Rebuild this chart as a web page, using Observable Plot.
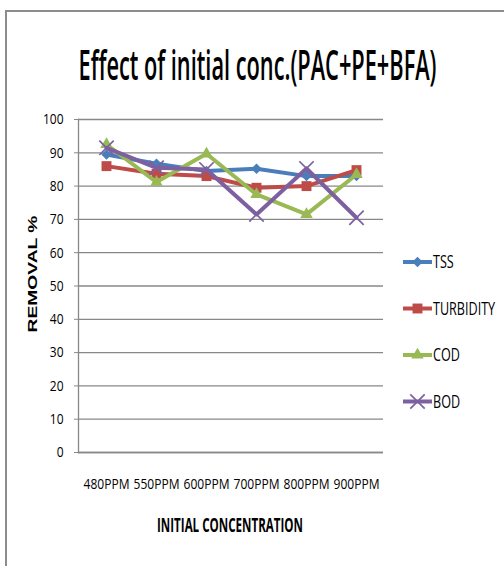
<!DOCTYPE html>
<html>
<head>
<meta charset="utf-8">
<script src="https://cdn.jsdelivr.net/npm/d3@7"></script>
<script src="https://cdn.jsdelivr.net/npm/@observablehq/plot@0.6"></script>
<style>
  body { margin: 0; background: #fff; }
  #chart { position: relative; width: 504px; height: 566px; overflow: hidden; background: #fff; font-family: "Open Sans", sans-serif; }
  #chart > svg { position: absolute; left: 0; top: 0; }
  .edge { position: absolute; background: #8c8c8c; }
</style>
</head>
<body>
<div id="chart">
  <div class="edge" style="left:5px;top:10px;width:1.5px;height:556px"></div>
  <div class="edge" style="left:5px;top:10px;width:499px;height:1.5px"></div>
</div>
<script>
// Removal efficiency (%) at each initial dose of the PAC+PE+BFA coagulant blend
const concentrations = ["480PPM", "550PPM", "600PPM", "700PPM", "800PPM", "900PPM"];
const seriesNames = ["TSS", "TURBIDITY", "COD", "BOD"];
const tss       = [89.5, 86.7, 84.5, 85.2, 83.0, 83.0];
const turbidity = [86.0, 83.7, 83.0, 79.5, 80.0, 84.8];
const cod       = [92.5, 81.2, 89.7, 77.5, 71.5, 83.5];
const bod       = [91.5, 85.5, 85.0, 71.5, 85.3, 70.5];
const yTicks = [0, 10, 20, 30, 40, 50, 60, 70, 80, 90, 100];

const seriesColors = ["#4a7ebb", "#be4b48", "#98b954", "#7d60a0"];
// TSS uses a square turned 45° so the diamond is as wide as it is tall
const seriesSymbols = ["square", "square", "triangle", "times"];
const symbolRotate = {TSS: 45, TURBIDITY: 0, COD: 0, BOD: 0};
const symbolRadius = {TSS: 4.2, TURBIDITY: 5.6, COD: 4.6, BOD: 6.6};

const valuesBySeries = {TSS: tss, TURBIDITY: turbidity, COD: cod, BOD: bod};
const rows = seriesNames.flatMap(s =>
  concentrations.map((c, i) => ({series: s, conc: c, value: valuesBySeries[s][i]}))
);

const gridColor = "#888888";
const lineWidth = 4;

const seriesMarks = seriesNames.flatMap(s => {
  const data = rows.filter(d => d.series === s);
  const hollow = s === "BOD";
  return [
    Plot.line(data, {x: "conc", y: "value", stroke: "series", strokeWidth: lineWidth, strokeLinejoin: "round"}),
    Plot.dot(data, {
      x: "conc", y: "value", symbol: "series", r: symbolRadius[s], rotate: symbolRotate[s],
      fill: hollow ? "none" : "series",
      stroke: hollow ? "series" : "none",
      strokeWidth: hollow ? 1.7 : 0
    })
  ];
});

const plot = Plot.plot({
  width: 504,
  height: 566,
  marginTop: 119,
  marginBottom: 114,
  marginLeft: 78,
  marginRight: 121,
  style: {fontFamily: "'Open Sans', sans-serif", fontSize: "15px", color: "#000", background: "transparent", overflow: "visible"},
  x: {type: "point", domain: concentrations, padding: 0.5, label: null},
  y: {domain: [0, 100], label: null},
  color: {domain: seriesNames, range: seriesColors},
  symbol: {domain: seriesNames, range: seriesSymbols},
  marks: [
    Plot.gridY(yTicks, {stroke: gridColor, strokeOpacity: 1, strokeWidth: 1.3}),
    Plot.axisY(yTicks, {tickSize: 4, tickPadding: 11, stroke: gridColor, label: null}),
    Plot.axisX({tickSize: 0, tickPadding: 26, label: null, fontSize: 14.5}),
    Plot.ruleY([0], {stroke: gridColor, strokeWidth: 1.3}),
    Plot.frame({anchor: "left", stroke: gridColor, strokeWidth: 1.3}),
    ...seriesMarks
  ]
});

const chart = document.getElementById("chart");
chart.appendChild(plot);

// Horizontally compress text (about its anchor) to the narrow look of the original typeface
function condense(nodes, k) {
  nodes.forEach(t => {
    const base = t.getAttribute("transform") || "";
    t.setAttribute("transform", `${base} scale(${k},1)`.trim());
  });
}
condense(plot.querySelectorAll('g[aria-label="y-axis tick label"] text'), 0.8);
condense(plot.querySelectorAll('g[aria-label="x-axis tick label"] text'), 0.83);

// Titles and legend
const overlay = d3.select(chart).append("svg")
  .attr("width", 504).attr("height", 566)
  .style("font-family", "'Open Sans', sans-serif");

overlay.append("text")
  .attr("transform", "translate(257.5,80) scale(0.5,1)")
  .attr("text-anchor", "middle")
  .attr("font-size", 41).attr("font-weight", 600)
  .attr("textLength", 716).attr("lengthAdjust", "spacingAndGlyphs")
  .text("Effect of initial conc.(PAC+PE+BFA)");

overlay.append("text")
  .attr("transform", "translate(37,274) rotate(-90)")
  .attr("text-anchor", "middle")
  .attr("font-family", "'Liberation Sans', Arial, sans-serif")
  .attr("font-size", 12.5).attr("font-weight", 700)
  .attr("textLength", 117).attr("lengthAdjust", "spacingAndGlyphs")
  .text("REMOVAL %");

overlay.append("text")
  .attr("transform", "translate(230,532) scale(0.5,1)")
  .attr("text-anchor", "middle")
  .attr("font-size", 19).attr("font-weight", 700)
  .attr("textLength", 292).attr("lengthAdjust", "spacingAndGlyphs")
  .text("INITIAL CONCENTRATION");

const d3Symbols = {square: d3.symbolSquare, triangle: d3.symbolTriangle, times: d3.symbolTimes};
const legend = overlay.append("g");
seriesNames.forEach((s, i) => {
  const g = legend.append("g").attr("transform", `translate(403,${262 + i * 46.5})`);
  const color = seriesColors[i];
  g.append("line").attr("x1", 0).attr("x2", 29).attr("stroke", color).attr("stroke-width", lineWidth);
  const hollow = s === "BOD";
  const r = symbolRadius[s];
  g.append("path")
    .attr("transform", `translate(14.5,0) rotate(${symbolRotate[s]})`)
    .attr("d", d3.symbol(d3Symbols[seriesSymbols[i]], Math.PI * r * r)())
    .attr("fill", hollow ? "none" : color)
    .attr("stroke", hollow ? color : "none")
    .attr("stroke-width", hollow ? 1.7 : 0);
  g.append("text")
    .attr("transform", "translate(30,0) scale(0.7,1)")
    .attr("dy", "0.36em")
    .attr("font-size", 18).attr("fill", "#000").text(s);
});
</script>
</body>
</html>
